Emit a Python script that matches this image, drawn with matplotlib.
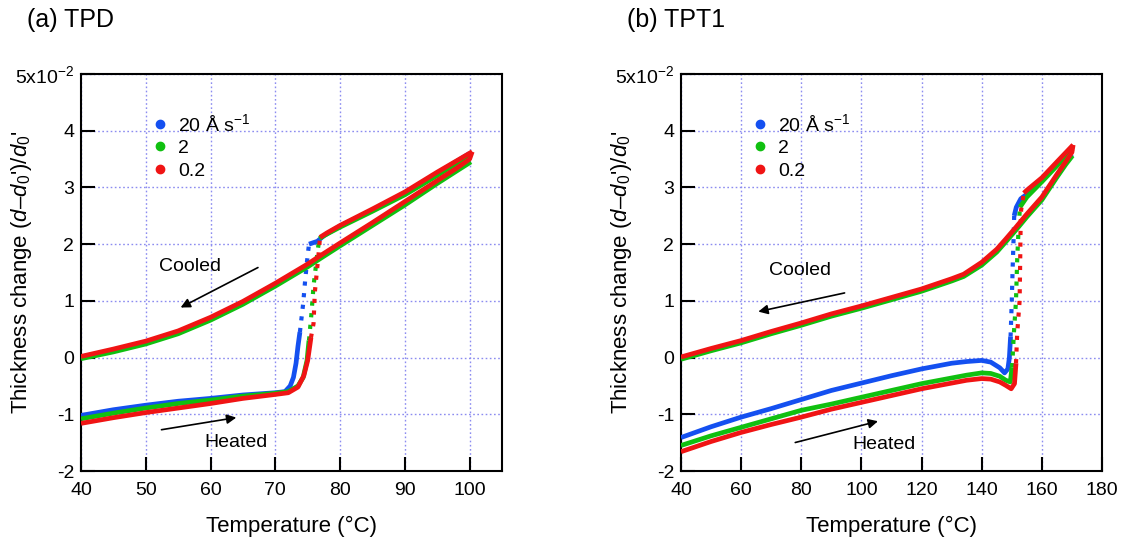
import matplotlib
matplotlib.use("Agg")
import matplotlib.pyplot as plt
from matplotlib.lines import Line2D

plt.rcParams['font.family'] = ['Liberation Sans', 'DejaVu Sans']
plt.rcParams['mathtext.fontset'] = 'custom'
plt.rcParams['mathtext.rm'] = 'Liberation Sans'
plt.rcParams['mathtext.it'] = 'Liberation Sans:italic'

# ---------------- data: panel (a) TPD ----------------
a_blue_low_T = [40, 45, 50, 55, 60, 65, 70, 71.5, 72.3, 72.8, 73.2, 73.5, 73.8]
a_blue_low_v = [-1.02, -0.92, -0.84, -0.77, -0.72, -0.66, -0.62, -0.6, -0.5, -0.35, -0.1, 0.2, 0.45]
a_blue_jump_T = [73.8, 74.3, 74.6, 74.9, 75.2]
a_blue_jump_v = [0.45, 0.95, 1.35, 1.7, 2.0]
a_blue_up_T = [75.2, 76.5, 77.5, 80, 85, 90, 95, 100]
a_blue_up_v = [2.0, 2.05, 2.15, 2.32, 2.6, 2.9, 3.25, 3.6]
a_blue_cool_T = [100, 98, 95, 90, 85, 80, 77, 75, 70, 65, 60, 55, 50, 45, 40]
a_blue_cool_v = [3.48, 3.32, 3.1, 2.72, 2.36, 2.0, 1.78, 1.63, 1.29, 0.97, 0.69, 0.45, 0.27, 0.13, 0.01]

a_green_low_T = [40, 45, 50, 55, 60, 65, 70, 72, 73.5, 74.3, 74.9, 75.2]
a_green_low_v = [-1.08, -0.98, -0.89, -0.81, -0.75, -0.68, -0.63, -0.6, -0.5, -0.35, -0.05, 0.3]
a_green_jump_T = [75.2, 75.6, 75.9, 76.2, 76.5, 76.8]
a_green_jump_v = [0.3, 0.8, 1.26, 1.55, 1.85, 2.1]
a_green_up_T = [76.8, 78, 80, 85, 90, 95, 100.2]
a_green_up_v = [2.1, 2.18, 2.3, 2.58, 2.87, 3.21, 3.58]
a_green_cool_T = [100.2, 98, 95, 90, 85, 80, 77, 75, 70, 65, 60, 55, 50, 45, 40]
a_green_cool_v = [3.45, 3.29, 3.07, 2.69, 2.33, 1.97, 1.75, 1.6, 1.26, 0.94, 0.66, 0.42, 0.24, 0.1, -0.02]

a_red_low_T = [40, 45, 50, 55, 60, 65, 70, 72, 73.5, 74.4, 75.0, 75.5]
a_red_low_v = [-1.16, -1.06, -0.97, -0.89, -0.81, -0.72, -0.65, -0.62, -0.52, -0.32, -0.05, 0.35]
a_red_jump_T = [75.5, 75.9, 76.1, 76.4, 76.7, 76.9]
a_red_jump_v = [0.35, 0.6, 1.15, 1.5, 1.85, 2.12]
a_red_up_T = [76.9, 78, 80, 85, 90, 95, 100.4]
a_red_up_v = [2.12, 2.2, 2.33, 2.62, 2.92, 3.27, 3.63]
a_red_cool_T = [100.4, 100, 98, 95, 90, 85, 80, 77, 75, 70, 65, 60, 55, 50, 45, 40]
a_red_cool_v = [3.63, 3.5, 3.34, 3.12, 2.75, 2.38, 2.02, 1.8, 1.65, 1.31, 0.99, 0.71, 0.47, 0.29, 0.15, 0.02]

# ---------------- data: panel (b) TPT1 ----------------
b_blue_low_T = [40, 50, 60, 70, 80, 90, 100, 110, 120, 130, 135, 140, 143, 146, 147.6, 148.7, 149.2, 149.6]
b_blue_low_v = [-1.41, -1.22, -1.05, -0.9, -0.74, -0.58, -0.45, -0.32, -0.2, -0.1, -0.07, -0.05, -0.08, -0.18, -0.27, -0.2, 0.0, 0.37]
b_blue_jump_T = [149.6, 150.0, 150.3, 150.6, 150.8]
b_blue_jump_v = [0.37, 1.0, 1.6, 2.1, 2.5]
b_blue_up_T = [150.8, 151.5, 153, 155, 160, 165, 170]
b_blue_up_v = [2.5, 2.65, 2.8, 2.88, 3.13, 3.41, 3.7]
b_blue_cool_T = [170, 168, 165, 160, 155, 151.4, 148, 145, 140, 134, 130, 120, 110, 100, 90, 80, 70, 60, 50, 40]
b_blue_cool_v = [3.58, 3.43, 3.2, 2.8, 2.5, 2.27, 2.06, 1.88, 1.65, 1.45, 1.37, 1.19, 1.04, 0.89, 0.75, 0.59, 0.44, 0.28, 0.14, -0.01]

b_green_low_T = [40, 50, 60, 70, 80, 90, 100, 110, 120, 130, 135, 140, 143, 146, 148, 149.5, 150.1]
b_green_low_v = [-1.55, -1.38, -1.23, -1.08, -0.93, -0.82, -0.7, -0.58, -0.46, -0.36, -0.31, -0.27, -0.28, -0.33, -0.4, -0.43, -0.17]
b_green_jump_T = [150.1, 150.7, 151.4, 151.8, 152.2, 152.7]
b_green_jump_v = [-0.17, 0.43, 1.0, 1.73, 2.2, 2.65]
b_green_up_T = [152.7, 155, 160, 165, 170.2]
b_green_up_v = [2.65, 2.83, 3.1, 3.38, 3.68]
b_green_cool_T = [170.2, 168, 165, 160, 155, 151.4, 148, 145, 140, 134, 130, 120, 110, 100, 90, 80, 70, 60, 50, 40]
b_green_cool_v = [3.56, 3.41, 3.18, 2.78, 2.48, 2.25, 2.04, 1.86, 1.63, 1.43, 1.35, 1.17, 1.02, 0.87, 0.73, 0.57, 0.42, 0.26, 0.12, -0.03]

b_red_low_T = [40, 50, 60, 70, 80, 90, 100, 110, 120, 130, 135, 140, 143, 146, 148, 149.8, 150.9, 151.4]
b_red_low_v = [-1.66, -1.48, -1.32, -1.18, -1.05, -0.91, -0.79, -0.67, -0.55, -0.45, -0.4, -0.37, -0.38, -0.43, -0.49, -0.55, -0.46, -0.1]
b_red_jump_T = [151.4, 151.8, 152.6, 152.8, 152.9, 153.1, 154.0]
b_red_jump_v = [-0.1, 0.43, 1.0, 1.73, 2.2, 2.6, 2.9]
b_red_up_T = [154.0, 155, 160, 165, 170.4]
b_red_up_v = [2.9, 2.95, 3.17, 3.45, 3.75]
b_red_cool_T = [170.4, 170, 168, 165, 160, 155, 151.4, 148, 145, 140, 134, 130, 120, 110, 100, 90, 80, 70, 60, 50, 40]
b_red_cool_v = [3.75, 3.62, 3.46, 3.23, 2.83, 2.53, 2.3, 2.09, 1.91, 1.68, 1.47, 1.39, 1.21, 1.06, 0.91, 0.77, 0.61, 0.46, 0.3, 0.16, 0.01]

series_labels = ["20 Å s$^{\\mathregular{-1}}$", "2", "0.2"]
series_colors = ["#1450f0", "#10c010", "#f01414"]
y_ticks = [-2, -1, 0, 1, 2, 3, 4, 5]
y_ticklabels = ["-2", "-1", "0", "1", "2", "3", "4", "5x10$^{\\mathregular{-2}}$"]
a_xticks = [40, 50, 60, 70, 80, 90, 100]
b_xticks = [40, 60, 80, 100, 120, 140, 160, 180]

panel_a = [
    (a_blue_low_T, a_blue_low_v, a_blue_jump_T, a_blue_jump_v, a_blue_up_T, a_blue_up_v, a_blue_cool_T, a_blue_cool_v),
    (a_green_low_T, a_green_low_v, a_green_jump_T, a_green_jump_v, a_green_up_T, a_green_up_v, a_green_cool_T, a_green_cool_v),
    (a_red_low_T, a_red_low_v, a_red_jump_T, a_red_jump_v, a_red_up_T, a_red_up_v, a_red_cool_T, a_red_cool_v),
]
panel_b = [
    (b_blue_low_T, b_blue_low_v, b_blue_jump_T, b_blue_jump_v, b_blue_up_T, b_blue_up_v, b_blue_cool_T, b_blue_cool_v),
    (b_green_low_T, b_green_low_v, b_green_jump_T, b_green_jump_v, b_green_up_T, b_green_up_v, b_green_cool_T, b_green_cool_v),
    (b_red_low_T, b_red_low_v, b_red_jump_T, b_red_jump_v, b_red_up_T, b_red_up_v, b_red_cool_T, b_red_cool_v),
]

fig = plt.figure(figsize=(11.23, 5.45), dpi=100)
W, H = 1123, 545
axA = fig.add_axes([81 / W, 1 - 471 / H, 421 / W, 397 / H])
axB = fig.add_axes([681 / W, 1 - 471 / H, 421 / W, 397 / H])

grid_color = "#8c8cf0"
lw = 3.4

def draw(ax, data, xlim, xticks):
    for (lT, lv, jT, jv, uT, uv, cT, cv), col in zip(data, series_colors):
        ax.plot(cT, cv, color=col, lw=lw, solid_capstyle='butt', zorder=3)
        ax.plot(lT, lv, color=col, lw=lw, solid_capstyle='butt', zorder=3)
        ax.plot(jT, jv, color=col, lw=3.0, linestyle=(0, (1, 1.8)), zorder=3)
        ax.plot(uT, uv, color=col, lw=lw, solid_capstyle='butt', zorder=3)
    ax.set_xlim(*xlim)
    ax.set_ylim(-2, 5)
    ax.set_xticks(xticks)
    ax.set_yticks(y_ticks)
    ax.set_yticklabels(y_ticklabels)
    ax.tick_params(direction='in', length=10, width=1.5, labelsize=14,
                   top=False, right=False)
    ax.tick_params(axis='x', pad=8)
    ax.tick_params(axis='y', pad=5)
    for s in ax.spines.values():
        s.set_linewidth(1.5)
    ax.grid(True, color=grid_color, linestyle=(0, (1.2, 1.8)), linewidth=1.0, zorder=0)
    ax.set_axisbelow(True)
    ax.set_xlabel("Temperature (°C)", fontsize=16, labelpad=12)
    ax.set_ylabel("Thickness change ($\\mathit{d}$–$\\mathit{d}_0$')/$\\mathit{d}_0$'", fontsize=16)
    ax.yaxis.set_label_coords(-0.112, 0.5)
    handles = [Line2D([], [], color=c, marker='o', linestyle='none', markersize=6) for c in series_colors]
    return handles

hA = draw(axA, panel_a, (40, 105), a_xticks)
hB = draw(axB, panel_b, (40, 180), b_xticks)

for ax, h in ((axA, hA), (axB, hB)):
    ax.legend(h, series_labels, loc='upper left', bbox_to_anchor=(0.156, 0.922),
              frameon=False, fontsize=14, handlelength=0.6, handletextpad=0.6,
              labelspacing=0.25, borderaxespad=0)

# arrows and annotations
axA.annotate("", xy=(55.0, 0.86), xytext=(67.7, 1.61),
             arrowprops=dict(arrowstyle='-|>', color='black', lw=1.2, mutation_scale=14))
axA.text(52.0, 1.6, "Cooled", fontsize=14, va='center', ha='left')
axA.annotate("", xy=(64.4, -1.05), xytext=(52.0, -1.28),
             arrowprops=dict(arrowstyle='-|>', color='black', lw=1.2, mutation_scale=14))
axA.text(59.1, -1.5, "Heated", fontsize=14, va='center', ha='left')

axB.annotate("", xy=(64.8, 0.80), xytext=(95.3, 1.15),
             arrowprops=dict(arrowstyle='-|>', color='black', lw=1.2, mutation_scale=14))
axB.text(69.3, 1.53, "Cooled", fontsize=14, va='center', ha='left')
axB.annotate("", xy=(106.4, -1.11), xytext=(77.1, -1.51),
             arrowprops=dict(arrowstyle='-|>', color='black', lw=1.2, mutation_scale=14))
axB.text(97.0, -1.53, "Heated", fontsize=14, va='center', ha='left')

fig.text(27 / W, 1 - 20 / H, "(a) TPD", fontsize=18, va='center', ha='left')
fig.text(627 / W, 1 - 20 / H, "(b) TPT1", fontsize=18, va='center', ha='left')

fig.savefig("out.png", dpi=100)
